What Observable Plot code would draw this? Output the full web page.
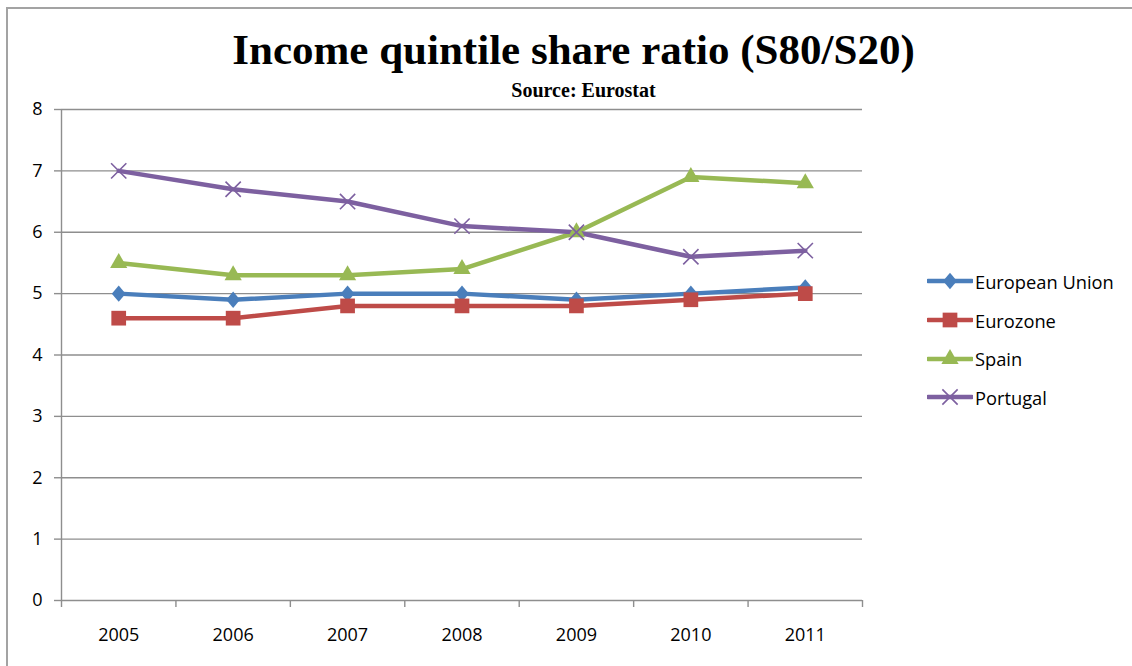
<!DOCTYPE html>
<html>
<head>
<meta charset="utf-8">
<script src="https://cdn.jsdelivr.net/npm/d3@7"></script>
<script src="https://cdn.jsdelivr.net/npm/@observablehq/plot@0.6"></script>
<style>
  html, body { margin:0; padding:0; width:1132px; height:666px; overflow:hidden; background:#fff; }
  #frame { position:absolute; left:6px; top:7px; width:1200px; height:700px; border:2px solid #a3a3a3; box-sizing:border-box; }
  #title { position:absolute; left:0; width:1147px; top:25px; text-align:center; font-family:"Liberation Serif","DejaVu Serif",serif; font-weight:bold; font-size:43px; line-height:50px; color:#000; }
  #subtitle { position:absolute; left:0; width:1167px; top:78px; text-align:center; font-family:"Liberation Serif",serif; font-weight:bold; font-size:20px; line-height:24px; color:#000; }
  #chart { position:absolute; left:0; top:0; }
  #legend { position:absolute; left:927px; top:262px; font-family:"Open Sans",sans-serif; font-size:18.3px; color:#000; }
  .item { display:flex; align-items:center; height:38.7px; }
  .item svg { margin-right:2px; }
</style>
</head>
<body>
<div id="frame"></div>
<div id="chart"></div>
<div id="title">Income quintile share ratio (S80/S20)</div>
<div id="subtitle">Source: Eurostat</div>
<div id="legend"></div>
<script>
const years = [2005, 2006, 2007, 2008, 2009, 2010, 2011];
const seriesNames = ["European Union", "Eurozone", "Spain", "Portugal"];
const europeanUnion = [5.0, 4.9, 5.0, 5.0, 4.9, 5.0, 5.1];
const eurozone      = [4.6, 4.6, 4.8, 4.8, 4.8, 4.9, 5.0];
const spain         = [5.5, 5.3, 5.3, 5.4, 6.0, 6.9, 6.8];
const portugal      = [7.0, 6.7, 6.5, 6.1, 6.0, 5.6, 5.7];
const yTicks = [0, 1, 2, 3, 4, 5, 6, 7, 8];

const seriesValues = [europeanUnion, eurozone, spain, portugal];
const colors = ["#4a7ebb", "#be4b48", "#98b954", "#7d60a0"];

// Excel-like diamond: a rotated square, slightly taller than wide
const diamondSym = {
  draw(ctx, size) {
    const k = 0.85;
    const h = Math.sqrt(size / (2 * k));
    const w = h * k;
    ctx.moveTo(0, -h); ctx.lineTo(w, 0); ctx.lineTo(0, h); ctx.lineTo(-w, 0); ctx.closePath();
  }
};
const symbols = [diamondSym, d3.symbolSquare, d3.symbolTriangle, d3.symbolTimes];
const radii = [6.0, 8.3, 6.4, 7];
const hollow = [false, false, false, true];

const data = seriesNames.flatMap((s, i) => years.map((y, j) => ({series: s, year: y, value: seriesValues[i][j]})));
const bounds = [years[0] - 0.5, ...years.map(y => y + 0.5)];
const gridColor = "#8e8e8e";

const marks = [
  Plot.ruleY(yTicks, {y: d => d, stroke: gridColor, strokeWidth: 1.4}),
  Plot.ruleX([bounds[0]], {stroke: gridColor, strokeWidth: 1.4}),
  Plot.axisY(yTicks, {tickSize: 7, tickPadding: 12, stroke: gridColor, strokeWidth: 1.4, tickFormat: d => String(d), label: null, fontSize: 18}),
  Plot.axisX(bounds, {tickSize: 7, stroke: gridColor, strokeWidth: 1.4, tickFormat: () => "", label: null}),
  Plot.axisX(years, {tickSize: 0, tickPadding: 28, tickFormat: d => String(d), label: null, fontSize: 18}),
  Plot.line(data, {x: "year", y: "value", z: "series", stroke: "series", strokeWidth: 4.5, strokeLinejoin: "round"})
];
seriesNames.forEach((s, i) => {
  marks.push(Plot.dot(data.filter(d => d.series === s), {
    x: "year", y: "value", symbol: symbols[i], r: radii[i],
    fill: hollow[i] ? "none" : colors[i], stroke: hollow[i] ? colors[i] : "none", strokeWidth: hollow[i] ? 1.6 : 0
  }));
});

const plot = Plot.plot({
  width: 1132, height: 666,
  marginLeft: 61, marginRight: 270, marginTop: 109, marginBottom: 66,
  x: {type: "linear", domain: [bounds[0], bounds[bounds.length - 1]]},
  y: {domain: [0, 8]},
  color: {domain: seriesNames, range: colors},
  style: {fontFamily: "'Open Sans', sans-serif", fontSize: "18px", color: "#000", background: "transparent", overflow: "visible"},
  marks
});
document.getElementById("chart").appendChild(plot);

// legend
const legend = d3.select("#legend");
seriesNames.forEach((s, i) => {
  const item = legend.append("div").attr("class", "item");
  const svg = item.append("svg").attr("width", 46).attr("height", 20);
  svg.append("line").attr("x1", 1).attr("x2", 45).attr("y1", 10).attr("y2", 10)
    .attr("stroke", colors[i]).attr("stroke-width", 4.5).attr("stroke-linecap", "round");
  svg.append("path").attr("transform", "translate(23,10)")
    .attr("d", d3.symbol(symbols[i], Math.PI * radii[i] * radii[i])())
    .attr("fill", hollow[i] ? "none" : colors[i]).attr("stroke", hollow[i] ? colors[i] : "none").attr("stroke-width", 1.6);
  item.append("span").text(s);
});
</script>
</body>
</html>
